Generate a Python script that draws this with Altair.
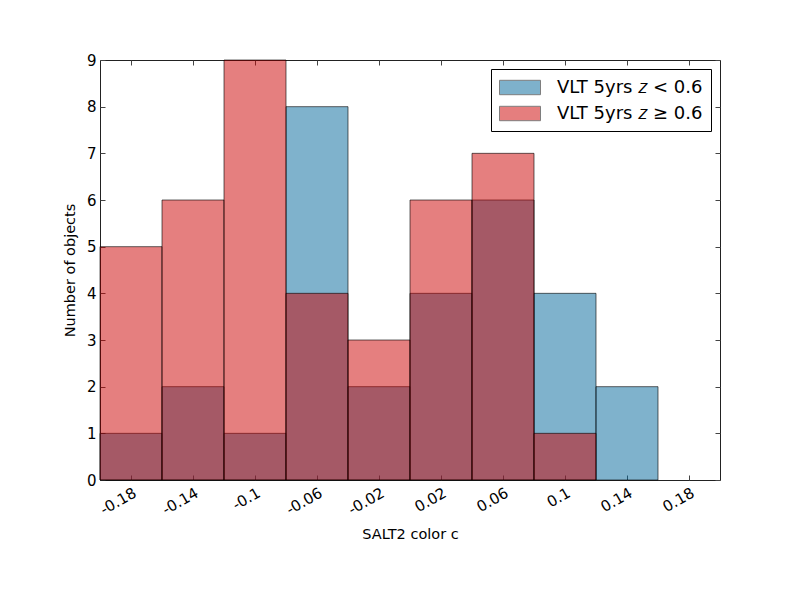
import altair as alt
import pandas as pd

bin_starts = [-0.20, -0.16, -0.12, -0.08, -0.04, 0.00, 0.04, 0.08, 0.12, 0.16]
bin_width = 0.04
low_z_counts = [1, 2, 1, 8, 2, 4, 6, 4, 2, 0]
high_z_counts = [5, 6, 9, 4, 3, 6, 7, 1, 0, 0]
series_names = ["VLT 5yrs 𝑧 < 0.6", "VLT 5yrs 𝑧 ≥ 0.6"]
series_colors = ["#006699", "#CC0000"]
x_ticks = [-0.18, -0.14, -0.10, -0.06, -0.02, 0.02, 0.06, 0.10, 0.14, 0.18]
x_tick_labels = ["-0.18", "-0.14", "-0.1", "-0.06", "-0.02", "0.02", "0.06", "0.1", "0.14", "0.18"]
y_ticks = list(range(0, 10))

rows = []
for name, counts in zip(series_names, [low_z_counts, high_z_counts]):
    for s, c in zip(bin_starts, counts):
        rows.append({"series": name, "start": s, "end": round(s + bin_width, 4), "count": c})
df = pd.DataFrame(rows)
df["order"] = df["series"].map({series_names[0]: 0, series_names[1]: 1})
df = df[df["count"] > 0]

label_list = "[" + ",".join("'%s'" % t for t in x_tick_labels) + "]"
label_expr = label_list + "[round((datum.value + 0.18) / 0.04)]"

FONT = "DejaVu Sans"
xscale = alt.Scale(domain=[-0.2, 0.2], nice=False, zero=False)
yscale = alt.Scale(domain=[0, 9], nice=False)

tick_common = dict(domain=False, tickSize=5, tickColor="#444", tickWidth=1, offset=-5, grid=False)

bars = alt.Chart(df).mark_bar(
    fillOpacity=0.5, stroke="black", strokeOpacity=0.6, strokeWidth=1
).encode(
    x=alt.X("start:Q", scale=xscale, axis=alt.Axis(
        values=x_ticks, labelExpr=label_expr, labelAngle=-30, labelAlign="right",
        labelBaseline="top", labelPadding=5, labelFontSize=15, labelFont=FONT,
        labelColor="black", title="SALT2 color c", titleFont=FONT, titleFontSize=14.5,
        titleFontWeight="normal", titleColor="black", titlePadding=10, orient="bottom",
        **tick_common)),
    x2="end:Q",
    y=alt.Y("count:Q", scale=yscale, axis=alt.Axis(
        values=y_ticks, labelPadding=4, labelFontSize=15, labelFont=FONT,
        labelColor="black", title="Number of objects", titleFont=FONT, titleFontSize=14.5,
        titleFontWeight="normal", titleColor="black", titlePadding=9, orient="left",
        **tick_common)),
    y2=alt.datum(0),
    color=alt.Color("series:N", scale=alt.Scale(domain=series_names, range=series_colors),
                    legend=alt.Legend(title=None)),
    order=alt.Order("order:Q"),
)

frame_axes = alt.Chart(df).mark_bar(opacity=0).encode(
    x=alt.X("start:Q", scale=xscale, axis=alt.Axis(
        values=x_ticks, labels=False, title=None, orient="top", **tick_common)),
    x2="end:Q",
    y=alt.Y("count:Q", scale=yscale, axis=alt.Axis(
        values=y_ticks, labels=False, title=None, orient="right", **tick_common)),
    y2=alt.datum(0),
)

chart = alt.layer(bars, frame_axes).resolve_axis(
    x="independent", y="independent"
).properties(
    width=620, height=420,
    autosize=alt.AutoSizeParams(type="none"),
    padding={"left": 92, "top": 52, "right": 60, "bottom": 100},
).configure_view(
    stroke="#222", strokeWidth=1
).configure_legend(
    orient="top-right", offset=9, strokeColor="black", fillColor="white",
    padding=8, labelFont=FONT, labelFontSize=18, labelColor="black",
    symbolType="M-1,-0.72L3.1,-0.72L3.1,0.72L-1,0.72Z", symbolSize=400,
    symbolOpacity=0.5, symbolStrokeColor="black", symbolStrokeWidth=1,
    labelOffset=37, rowPadding=6, labelLimit=400,
)

chart.save("out.html", embed_options={"renderer": "svg", "actions": False})
